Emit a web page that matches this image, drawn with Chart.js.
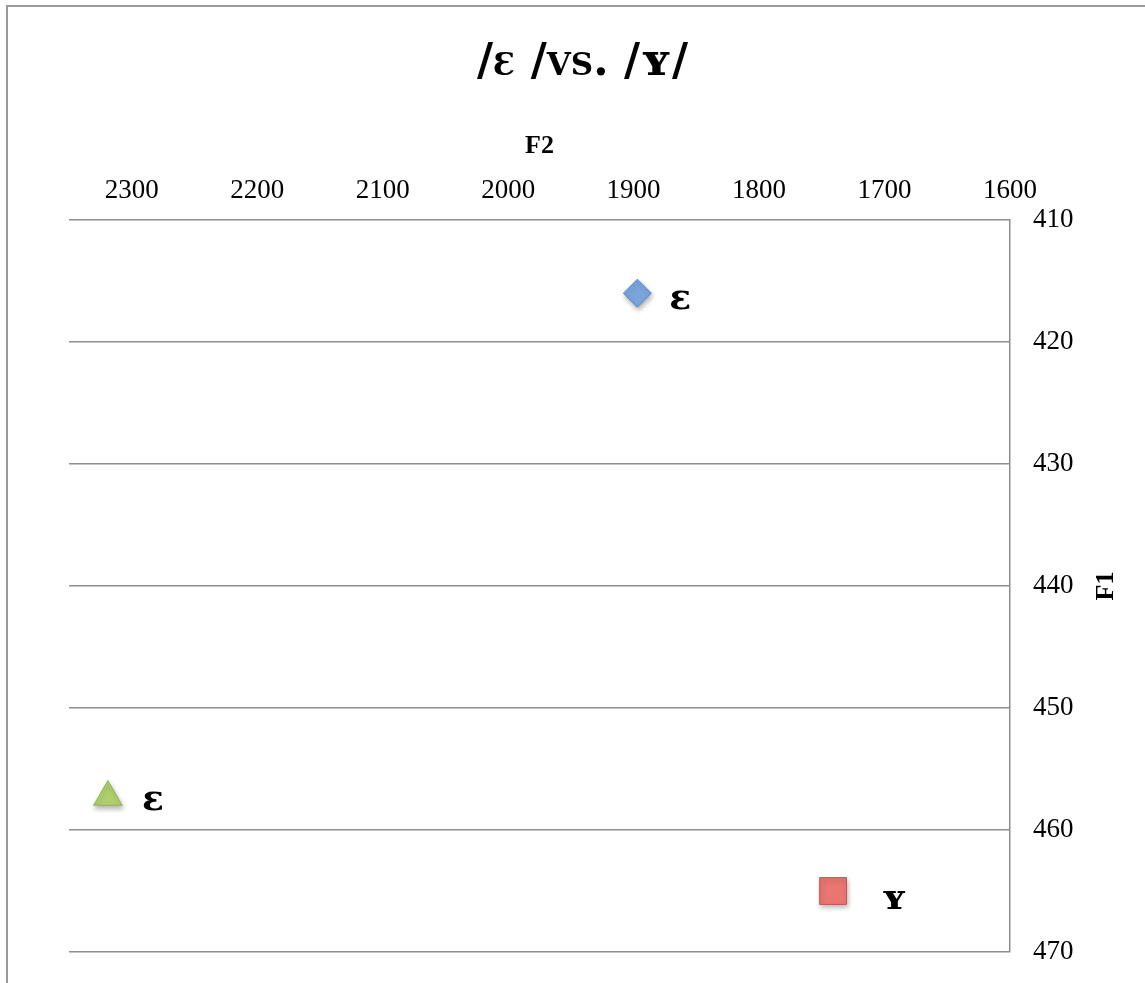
<!DOCTYPE html>
<html>
<head>
<meta charset="utf-8">
<script src="https://cdn.jsdelivr.net/npm/chart.js@4.4.1/dist/chart.umd.min.js"></script>
<style>
  html, body { margin: 0; padding: 0; background: #fff; }
  #wrap { position: relative; width: 1145px; height: 983px; }
  #frame {
    position: absolute; left: 6px; top: 5px; right: 0; bottom: 0;
    border-left: 2px solid #999; border-top: 2px solid #999;
    pointer-events: none;
  }
</style>
</head>
<body>
<div id="wrap">
  <canvas id="myChart" width="1145" height="983"></canvas>
  <div id="frame"></div>
</div>
<script>
// vowel formant points, F2 on x (reversed), F1 on y (reversed)
const seriesNames = ["ɛ", "ʏ", "ɛ"];
const f2Values = [1897, 1741, 2319];
const f1Values = [416.0, 465.0, 457.3];

const xTicks = [1600, 1700, 1800, 1900, 2000, 2100, 2200, 2300];
const yTicks = [410, 420, 430, 440, 450, 460, 470];

const colors = {
  blue: "rgb(122, 165, 220)",
  blueEdge: "rgb(90, 136, 200)",
  red: "rgb(234, 118, 114)",
  redEdge: "rgb(205, 84, 80)",
  green: "rgb(176, 208, 112)",
  greenEdge: "rgb(146, 182, 86)",
  grid: "#8e8e8e",
};

const markerStyle = [
  { pointStyle: "rectRot", radius: 14, bg: colors.blue, edge: colors.blueEdge, labelDx: 32, labelDy: 6 },
  { pointStyle: "rect", radius: 19, bg: colors.red, edge: colors.redEdge, labelDx: 48, labelDy: 9 },
  { pointStyle: "triangle", radius: 16.5, bg: colors.green, edge: colors.greenEdge, labelDx: 34, labelDy: 4 },
];

const titleSize = 44;
const titleTop = 37;

const datasets = seriesNames.map((name, i) => ({
  label: name,
  data: [{ x: f2Values[i], y: f1Values[i] }],
  pointStyle: markerStyle[i].pointStyle,
  pointRadius: markerStyle[i].radius,
  pointHoverRadius: markerStyle[i].radius,
  backgroundColor: markerStyle[i].bg,
  borderColor: markerStyle[i].edge,
  borderWidth: 1,
  labelDx: markerStyle[i].labelDx,
  labelDy: markerStyle[i].labelDy,
}));

// soft drop shadow under the markers
const markerShadow = {
  id: "markerShadow",
  beforeDatasetDraw(chart) {
    const ctx = chart.ctx;
    ctx.save();
    ctx.shadowColor = "rgba(0, 0, 0, 0.3)";
    ctx.shadowBlur = 5;
    ctx.shadowOffsetX = 1;
    ctx.shadowOffsetY = 3;
  },
  afterDatasetDraw(chart) {
    chart.ctx.restore();
  },
};

// vowel symbol written next to each point
const pointLabels = {
  id: "pointLabels",
  afterDatasetsDraw(chart) {
    const ctx = chart.ctx;
    ctx.save();
    ctx.font = "bold 36px 'DejaVu Serif'";
    ctx.fillStyle = "#000";
    ctx.textAlign = "left";
    ctx.textBaseline = "middle";
    chart.data.datasets.forEach((ds, i) => {
      chart.getDatasetMeta(i).data.forEach((pt) => {
        ctx.fillText(ds.label, pt.x + ds.labelDx, pt.y + ds.labelDy);
      });
    });
    ctx.restore();
  },
};

// F1 title reads bottom to top on the right side
const rightTitle = {
  id: "rightTitle",
  afterDraw(chart) {
    const ctx = chart.ctx;
    const area = chart.chartArea;
    ctx.save();
    ctx.translate(1106, (area.top + area.bottom) / 2);
    ctx.rotate(-Math.PI / 2);
    ctx.font = "bold 26px 'Liberation Serif'";
    ctx.fillStyle = "#000";
    ctx.textAlign = "center";
    ctx.textBaseline = "middle";
    ctx.fillText("F1", 0, 0);
    ctx.restore();
  },
};

const chart_ctx = document.getElementById("myChart");
const config = {
  type: "scatter",
  data: { datasets },
  options: {
    responsive: false,
    animation: false,
    events: [],
    layout: { padding: { left: 69, right: 49, top: 0, bottom: 31 } },
    plugins: {
      legend: { display: false },
      tooltip: { enabled: false },
      title: {
        display: true,
        text: "/ɛ /vs. /ʏ/",
        color: "#000",
        font: { family: "'DejaVu Serif'", size: titleSize, weight: "small-caps bold", lineHeight: 1.2 },
        padding: { top: titleTop, bottom: 0 },
      },
    },
    scales: {
      x: {
        type: "linear",
        position: "top",
        reverse: true,
        min: 1600,
        max: 2350,
        afterBuildTicks: (scale) => {
          scale.ticks = xTicks.map((v) => ({ value: v }));
        },
        afterFit: (scale) => {
          scale.height = 220 - titleTop - titleSize * 1.2;
          scale.paddingLeft = 0;
          scale.paddingRight = 0;
        },
        grid: { display: false, drawTicks: false },
        border: { display: false },
        ticks: {
          color: "#000",
          padding: 13,
          maxRotation: 0,
          callback: (v) => String(v),
          font: { family: "'Liberation Serif'", size: 27 },
        },
        title: {
          display: true,
          text: "F2",
          color: "#000",
          font: { family: "'Liberation Serif'", size: 26, weight: "bold", lineHeight: 1.2 },
          padding: { top: 41, bottom: 0 },
        },
      },
      y: {
        type: "linear",
        position: "right",
        reverse: true,
        min: 410,
        max: 470,
        afterBuildTicks: (scale) => {
          scale.ticks = yTicks.map((v) => ({ value: v }));
        },
        afterFit: (scale) => {
          scale.width = 1145 - 49 - 1010;
          scale.paddingTop = 0;
          scale.paddingBottom = 0;
        },
        grid: { color: colors.grid, lineWidth: 1.5, drawTicks: false },
        border: { display: true, color: colors.grid, width: 1.5 },
        ticks: {
          color: "#000",
          padding: 23,
          callback: (v) => String(v),
          font: { family: "'Liberation Serif'", size: 27 },
        },
        title: { display: false },
      },
    },
  },
  plugins: [markerShadow, pointLabels, rightTitle],
};
var myChart = new Chart(chart_ctx, config);
</script>
</body>
</html>
